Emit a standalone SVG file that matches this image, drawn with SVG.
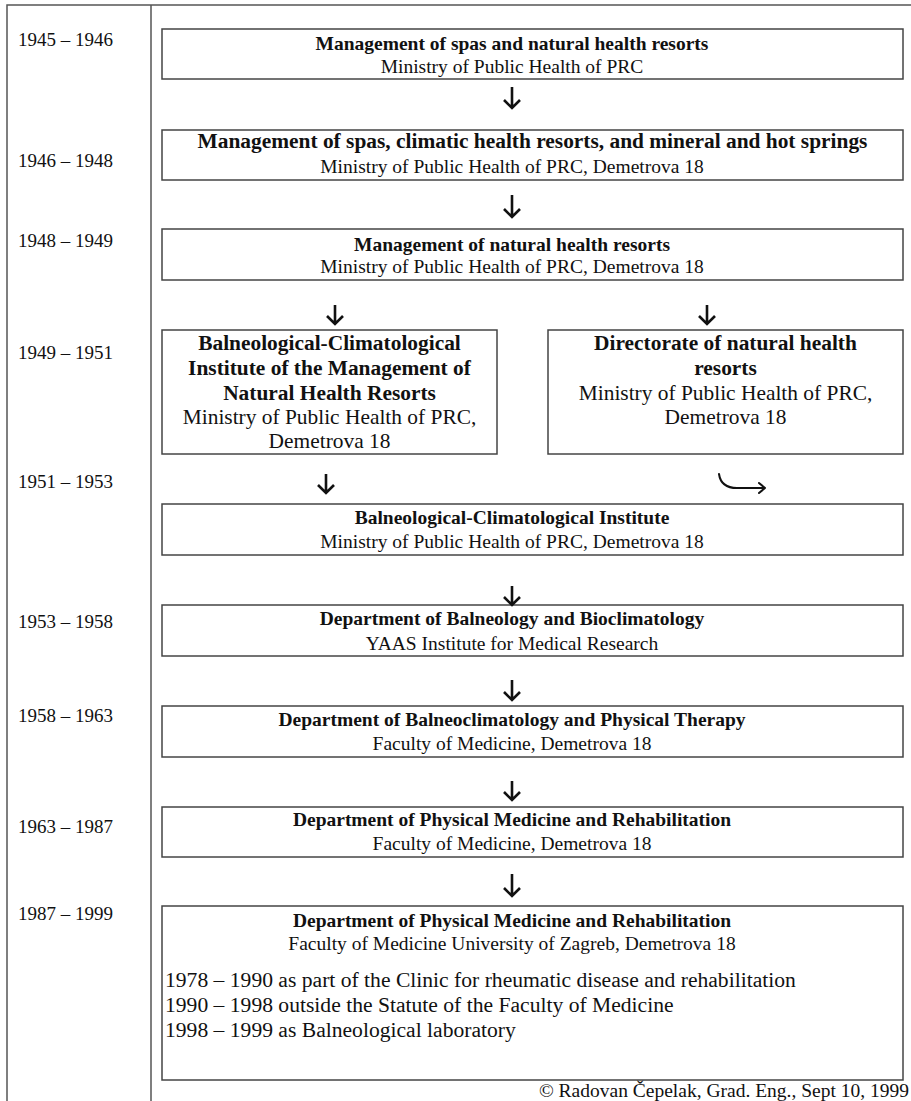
<svg xmlns="http://www.w3.org/2000/svg" width="911" height="1101" viewBox="0 0 911 1101">
<style>
text{font-family:"Liberation Serif","Times New Roman",serif;font-size:19.5px;fill:#111}
.b{font-weight:bold}
.c{text-anchor:middle}
.d{font-size:19px}
.L{font-size:21.4px}
.box{fill:#fff;stroke:#444;stroke-width:1.5}
.frame{fill:none;stroke:#555;stroke-width:1.5}
.arr{fill:none;stroke:#111;stroke-width:2.6;stroke-linecap:butt;stroke-linejoin:miter}
.arr2{fill:none;stroke:#111;stroke-width:2;stroke-linecap:round;stroke-linejoin:round}
</style>
<rect width="911" height="1101" fill="#fff"/>
<g id="frame">
<path class="frame" d="M7 1101 V5 H911 M151 5 V1101"/>
</g>
<g id="dates">
<text class="d" x="18" y="46">1945 – 1946</text>
<text class="d" x="18" y="167">1946 – 1948</text>
<text class="d" x="18" y="247">1948 – 1949</text>
<text class="d" x="18" y="359">1949 – 1951</text>
<text class="d" x="18" y="488">1951 – 1953</text>
<text class="d" x="18" y="628">1953 – 1958</text>
<text class="d" x="18" y="722">1958 – 1963</text>
<text class="d" x="18" y="833">1963 – 1987</text>
<text class="d" x="18" y="920">1987 – 1999</text>
</g>
<g id="n1">
<rect class="box" x="162" y="29" width="741" height="50"/>
<text class="b c" x="512" y="50">Management of spas and natural health resorts</text>
<text class="c" x="512" y="73">Ministry of Public Health of PRC</text>
</g>
<g id="n2">
<rect class="box" x="162" y="130" width="741" height="50"/>
<text class="b c L" x="532.5" y="148">Management of spas, climatic health resorts, and mineral and hot springs</text>
<text class="c" x="512" y="173">Ministry of Public Health of PRC, Demetrova 18</text>
</g>
<g id="n3">
<rect class="box" x="162" y="229" width="741" height="51"/>
<text class="b c" x="512" y="251">Management of natural health resorts</text>
<text class="c" x="512" y="273">Ministry of Public Health of PRC, Demetrova 18</text>
</g>
<g id="n4">
<rect class="box" x="162" y="330" width="335" height="124"/>
<text class="b c L" x="329.5" y="350">Balneological-Climatological</text>
<text class="b c L" x="329.5" y="375">Institute of the Management of</text>
<text class="b c L" x="329.5" y="400">Natural Health Resorts</text>
<text class="c L" x="329.5" y="424">Ministry of Public Health of PRC,</text>
<text class="c L" x="329.5" y="448">Demetrova 18</text>
</g>
<g id="n5">
<rect class="box" x="548" y="330" width="355" height="124"/>
<text class="b c L" x="725.5" y="350">Directorate of natural health</text>
<text class="b c L" x="725.5" y="375">resorts</text>
<text class="c L" x="725.5" y="400">Ministry of Public Health of PRC,</text>
<text class="c L" x="725.5" y="424">Demetrova 18</text>
</g>
<g id="n6">
<rect class="box" x="162" y="504" width="741" height="51"/>
<text class="b c" x="512" y="524">Balneological-Climatological Institute</text>
<text class="c" x="512" y="548">Ministry of Public Health of PRC, Demetrova 18</text>
</g>
<g id="n7">
<rect class="box" x="162" y="605" width="741" height="51"/>
<text class="b c" x="512" y="625">Department of Balneology and Bioclimatology</text>
<text class="c" x="512" y="650">YAAS Institute for Medical Research</text>
</g>
<g id="n8">
<rect class="box" x="162" y="706" width="741" height="51"/>
<text class="b c" x="512" y="726">Department of Balneoclimatology and Physical Therapy</text>
<text class="c" x="512" y="750">Faculty of Medicine, Demetrova 18</text>
</g>
<g id="n9">
<rect class="box" x="162" y="807" width="741" height="50"/>
<text class="b c" x="512" y="826">Department of Physical Medicine and Rehabilitation</text>
<text class="c" x="512" y="850">Faculty of Medicine, Demetrova 18</text>
</g>
<g id="n10">
<rect class="box" x="162" y="906" width="741" height="174"/>
<text class="b c" x="512" y="927">Department of Physical Medicine and Rehabilitation</text>
<text class="c" x="512" y="950">Faculty of Medicine University of Zagreb, Demetrova 18</text>
<text class="L" x="165" y="987" style="font-size:21.6px">1978 – 1990 as part of the Clinic for rheumatic disease and rehabilitation</text>
<text class="L" x="165" y="1012" style="font-size:21.6px">1990 – 1998 outside the Statute of the Faculty of Medicine</text>
<text class="L" x="165" y="1037" style="font-size:21.6px">1998 – 1999 as Balneological laboratory</text>
</g>
<g id="connectors">
<path class="arr" d="M512 87 V108 M504 100 L512 108 L520 100"/>
<path class="arr" d="M512 195 V217 M504 209 L512 217 L520 209"/>
<path class="arr" d="M335 305 V324 M327 316 L335 324 L343 316"/>
<path class="arr" d="M707 305 V324 M699 316 L707 324 L715 316"/>
<path class="arr" d="M326 474 V493 M318 485 L326 493 L334 485"/>
<path class="arr2" d="M719 474 Q721 488 737 488 H765 M759 483 L765 488 L759 493"/>
<path class="arr" d="M512 586 V605 M504 597 L512 605 L520 597"/>
<path class="arr" d="M512 680 V700 M504 692 L512 700 L520 692"/>
<path class="arr" d="M512 781 V800 M504 792 L512 800 L520 792"/>
<path class="arr" d="M512 874 V896 M504 888 L512 896 L520 888"/>
</g>
<text id="copyright" x="909" y="1097" style="text-anchor:end">© Radovan Čepelak, Grad. Eng., Sept 10, 1999</text>
</svg>
